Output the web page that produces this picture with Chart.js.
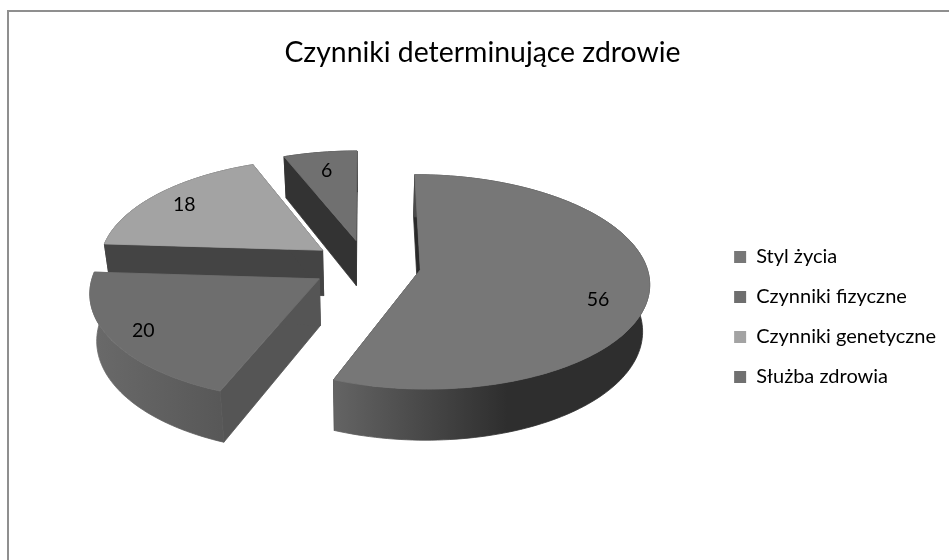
<!DOCTYPE html>
<html lang="pl">
<head>
<meta charset="utf-8">
<style>
html,body{margin:0;padding:0;background:#fff}
#w{position:relative;width:949px;height:560px}
canvas{display:block}
</style>
<script src="https://cdn.jsdelivr.net/npm/chart.js@4"></script>
</head>
<body>
<div id="w"><canvas id="c" width="949" height="560"></canvas></div>
<script>
const chartTitle = 'Czynniki determinujące zdrowie';
const categories = ['Styl życia', 'Czynniki fizyczne', 'Czynniki genetyczne', 'Służba zdrowia'];
const values = [56, 20, 18, 6];
const faceColors = ['#777777', '#6e6e6e', '#a3a3a3', '#707070'];
const sideColors = ['#2a2a2a', '#555555', '#444444', '#333333'];
const rimLeft = ['#646464', '#6a6a6a', '#444444', '#333333'];
const rimRight = ['#2e2e2e', '#585858', '#444444', '#333333'];
const drawOrder = [3, 2, 1, 0];
const labelFraction = [0.775, 0.847, 0.792, 0.746];
const labelShift = [[1, 14], [-2, 0], [-6, -1], [-2, -2]];

// Tilted view of the pie plane
const view = { cx: 366, cy: 265, aLeft: 224, aRight: 226, b: 104.8, p: 0.112, depth: 46, baseScale: 0.975 };
const EXPLODE_SHARE = 0.1637;

function project(u, v) {
  const w = 1 - view.p * v;
  const a = u < 0 ? view.aLeft : view.aRight;
  return { x: view.cx + a * u / w, y: view.cy + view.b * v / w };
}
function baseOf(pt, v) {
  return {
    x: view.cx + (pt.x - view.cx) * view.baseScale,
    y: pt.y + view.depth / (1 - 0.095 * v)
  };
}
function trace(ctx, pts) {
  ctx.beginPath();
  pts.forEach((q, i) => i ? ctx.lineTo(q.x, q.y) : ctx.moveTo(q.x, q.y));
  ctx.closePath();
}
function paint(ctx, pts, style) {
  ctx.fillStyle = style;
  ctx.strokeStyle = style;
  ctx.lineWidth = 0.8;
  trace(ctx, pts);
  ctx.fill();
  ctx.stroke();
}

const tiltedPie = {
  id: 'tiltedPie',
  beforeDraw(chart) {
    const ctx = chart.ctx;
    ctx.save();
    ctx.fillStyle = '#8f8f8f';
    ctx.fillRect(7, 10, 2, 550);
    ctx.fillRect(7, 10, 942, 2);
    ctx.restore();
  },
  beforeDatasetDraw(chart, args) {
    const ctx = chart.ctx;
    const arcs = args.meta.data;
    ctx.save();
    drawOrder.forEach(i => {
      const el = arcs[i];
      const R = el.outerRadius;
      const mid = (el.startAngle + el.endAngle) / 2;
      const d = (el.options.offset / 4) / R; // the arc element moves by offset / 4
      const au = d * Math.cos(mid), av = d * Math.sin(mid);
      const apex = project(au, av);
      const rim = [], rimV = [];
      const steps = Math.max(6, Math.round((el.endAngle - el.startAngle) * 40));
      for (let s = 0; s <= steps; s++) {
        const t = el.startAngle + (el.endAngle - el.startAngle) * s / steps;
        const v = av + Math.sin(t);
        rim.push(project(au + Math.cos(t), v));
        rimV.push(v);
      }
      const rimBase = rim.map((q, k) => baseOf(q, rimV[k]));
      const apexBase = baseOf(apex, av);
      // side walls
      paint(ctx, [apex, rim[0], rimBase[0], apexBase], sideColors[i]);
      paint(ctx, [apex, rim[steps], rimBase[steps], apexBase], sideColors[i]);
      // outer wall
      const xs = rim.map(q => q.x);
      const minX = Math.min(...xs), maxX = Math.max(...xs);
      const g = ctx.createLinearGradient(minX, 0, i === 0 ? minX + (maxX - minX) * 0.55 : maxX, 0);
      g.addColorStop(0, rimLeft[i]);
      g.addColorStop(1, rimRight[i]);
      paint(ctx, rim.concat(rimBase.slice().reverse()), g);
      // top face
      paint(ctx, [apex].concat(rim), el.options.backgroundColor);
      // value label
      const f = labelFraction[i];
      const lp = project(au + f * Math.cos(mid), av + f * Math.sin(mid));
      ctx.fillStyle = '#000';
      ctx.font = '19.5px Lato';
      ctx.textAlign = 'center';
      ctx.textBaseline = 'middle';
      ctx.fillText(String(values[i]), lp.x + labelShift[i][0], lp.y + labelShift[i][1]);
    });
    ctx.restore();
    return false;
  }
};

new Chart(document.getElementById('c'), {
  type: 'pie',
  data: {
    labels: categories,
    datasets: [{
      data: values,
      backgroundColor: faceColors,
      borderWidth: 0,
      offset: (c) => {
        const area = c.chart.chartArea;
        return area ? Math.min(area.width, area.height) / 2 * EXPLODE_SHARE * 4 : 0;
      }
    }]
  },
  plugins: [tiltedPie],
  options: {
    responsive: false,
    animation: false,
    layout: { padding: { left: 19, right: 3, top: 36, bottom: -38 } },
    plugins: {
      tooltip: { enabled: false },
      title: {
        display: true,
        text: chartTitle,
        color: '#000',
        font: { family: 'Lato', size: 28.4, weight: 'normal' },
        padding: { top: 0, bottom: 22 }
      },
      legend: {
        position: 'right',
        labels: {
          color: '#000',
          font: { family: 'Lato', size: 20 },
          boxWidth: 12,
          boxHeight: 12,
          padding: 20
        }
      }
    }
  }
});
</script>
</body>
</html>
